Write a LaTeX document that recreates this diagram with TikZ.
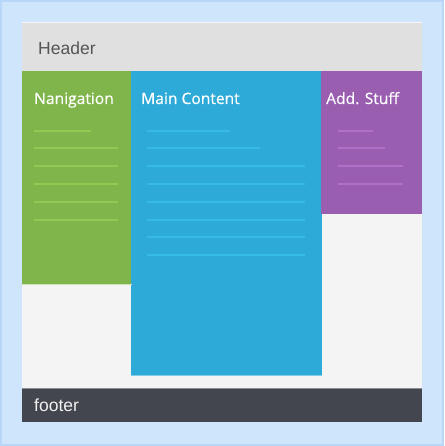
\documentclass[tikz,border=0pt]{standalone}
\usepackage{fontspec}
\setmainfont{Liberation Sans}
\newfontfamily\titlefont[BoldFont={Open Sans}, BoldFeatures={FakeBold=0.5}]{Open Sans}
\definecolor{framefill}{HTML}{CFE5FC}
\definecolor{frameedge}{HTML}{B8D6F8}
\definecolor{pagebg}{HTML}{F4F4F4}
\definecolor{headerbg}{HTML}{E0E0E0}
\definecolor{headertext}{HTML}{555555}
\definecolor{navbg}{HTML}{7FB54A}
\definecolor{navline}{HTML}{8FCA52}
\definecolor{mainbg}{HTML}{2DAAD8}
\definecolor{mainline}{HTML}{36BBE8}
\definecolor{sidebg}{HTML}{9A5EB0}
\definecolor{sideline}{HTML}{AE70C8}
\definecolor{footerbg}{HTML}{44464F}
\definecolor{footerline}{HTML}{8A8C92}
\tikzset{
  panel/.style={anchor=north west, inner sep=0pt, outer sep=0pt, draw=none},
  coltitle/.style={anchor=base west, inner sep=0pt, text=white, font=\titlefont\bfseries\fontsize{15.6}{18}\selectfont},
  bartitle/.style={anchor=base west, inner sep=0pt, font=\fontsize{17.5}{20}\selectfont},
  textline/.style={line width=2pt}
}
\begin{document}
\begin{tikzpicture}[x=1pt,y=-1pt]
\useasboundingbox (0,0) rectangle (444,446);
% outer frame
\fill[framefill] (0,0) rectangle (444,446);
\draw[frameedge, line width=2pt] (1,1) rectangle (443,445);
% page
\node[panel, fill=pagebg, minimum width=400pt, minimum height=400pt] (page) at (22,22) {};
% header
\node[panel, fill=headerbg, minimum width=400pt, minimum height=49pt] (header) at (22,22) {};
\draw[white!70!headerbg, line width=0.8pt] (header.north west) -- (header.north east);
\node[bartitle, text=headertext] (headertitle) at (38,55) {Header};
% columns
\node[panel, fill=navbg, minimum width=109.5pt, minimum height=213pt] (nav) at (22,71) {};
\node[panel, fill=mainbg, minimum width=190.5pt, minimum height=304pt] (main) at (131,71) {};
\node[panel, fill=sidebg, minimum width=101pt, minimum height=143pt] (side) at (321,71) {};
\draw[white!60!navbg, line width=0.8pt] (nav.south west) -- (nav.south east);
\draw[white!40!mainbg, line width=0.6pt] (main.south west) -- (main.south east);
\node[coltitle] (navtitle) at (34,104) {Nanigation};
\node[coltitle] (maintitle) at (141,104) {Main Content};
\node[coltitle] (sidetitle) at (326,104) {Add. Stuff};
% placeholder text lines
\draw[textline, navline] (34,131) -- (91,131);
\foreach \y in {148.5,166.5,184,202,219.5}
  \draw[textline, navline] (34,\y) -- (118,\y);
\draw[textline, mainline] (147,131) -- (230,131);
\draw[textline, mainline] (147,148.5) -- (260,148.5);
\foreach \y in {166.5,184,202,219.5,237,255}
  \draw[textline, mainline] (147,\y) -- (305,\y);
\draw[textline, sideline] (338,131) -- (373,131);
\draw[textline, sideline] (338,148.5) -- (385,148.5);
\foreach \y in {166.5,184}
  \draw[textline, sideline] (338,\y) -- (403,\y);
% footer
\node[panel, fill=footerbg, minimum width=400pt, minimum height=34pt] (footer) at (22,388) {};
\draw[footerline, line width=0.8pt] (footer.north west) -- (footer.north east);
\node[bartitle, text=white!94!black] (footertitle) at (34,411) {footer};
\end{tikzpicture}
\end{document}
